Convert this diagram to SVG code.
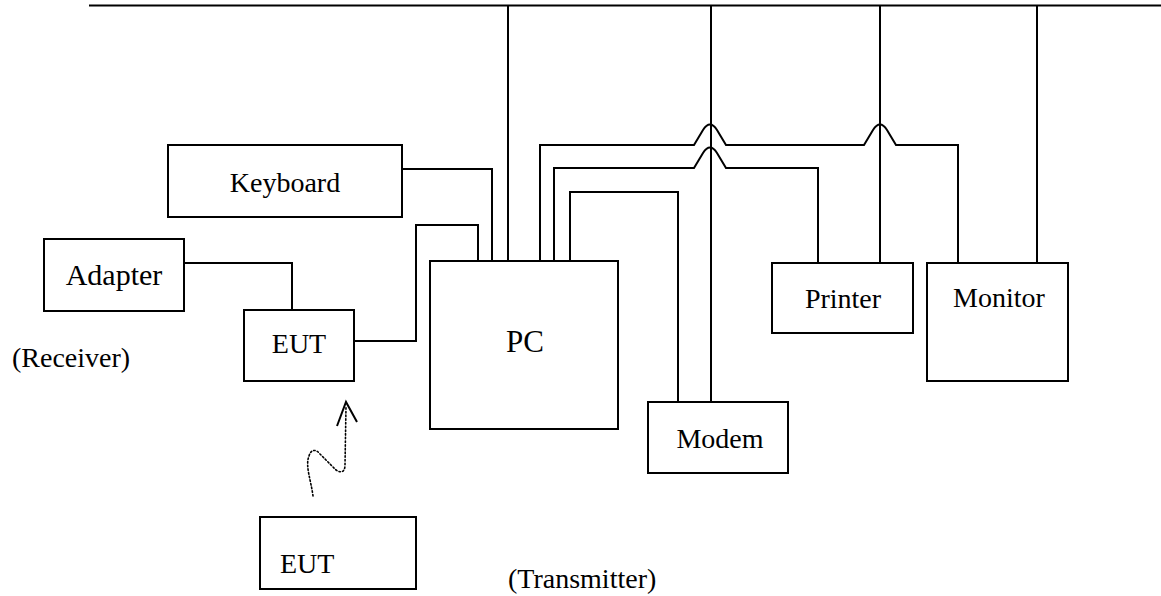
<svg xmlns="http://www.w3.org/2000/svg" width="1161" height="596" viewBox="0 0 1161 596">
<style>
.box{fill:#fff;stroke:#000;stroke-width:2}
.w{fill:none;stroke:#000;stroke-width:2}
.t{font-family:"Liberation Serif","Times New Roman",serif;font-size:28px;fill:#000}
.dot{fill:none;stroke:#000;stroke-width:1.6;stroke-dasharray:1.5 2.2;stroke-linecap:round}
</style>
<rect width="1161" height="596" fill="#fff"/>
<g id="connectors">
<path class="w" d="M89,5.5 H1161"/>
<path class="w" d="M182,263 H292 V310"/>
<path class="w" d="M354,341 H416 V225 H478 V272"/>
<path class="w" d="M400,169 H492 V263"/>
<path class="w" d="M508,5 V262"/>
<path class="w" d="M540,264 V145 H694 L703,130 Q710,119 717,130 L726,145 H864 L873,130 Q880,119 887,130 L896,145 H958 V263"/>
<path class="w" d="M554,263 V168 H694 L703,153 Q710,142 717,153 L726,168 H818 V263"/>
<path class="w" d="M570,262 V192 H678 V402"/>
<path class="w" d="M711,5 V402"/>
<path class="w" d="M880,5 V263"/>
<path class="w" d="M1037,5 V263"/>
<path class="dot" d="M313,496 C311,480 305,466 309,456 C311,449 316,449 320,454 L336,470 C342,474 345,471 345,465 L346,407"/>
<path class="w" d="M337,426 L346,402 L357,422"/>
</g>
<g id="keyboard"><rect class="box" x="168" y="145" width="234" height="72"/><text class="t" x="285" y="192" text-anchor="middle">Keyboard</text></g>
<g id="adapter"><rect class="box" x="44" y="239" width="140" height="72"/><text class="t" x="114" y="285" text-anchor="middle" style="font-size:30px">Adapter</text></g>
<g id="eut-rx"><rect class="box" x="244" y="310" width="110" height="71"/><text class="t" x="299" y="353" text-anchor="middle">EUT</text></g>
<g id="receiver-label"><text class="t" x="12" y="367">(Receiver)</text></g>
<g id="pc"><rect class="box" x="430" y="261" width="188" height="168"/><text class="t" x="525" y="352" text-anchor="middle" style="font-size:31px">PC</text></g>
<g id="modem"><rect class="box" x="648" y="402" width="140" height="71"/><text class="t" x="720" y="448" text-anchor="middle">Modem</text></g>
<g id="printer"><rect class="box" x="772" y="263" width="141" height="70"/><text class="t" x="843" y="308" text-anchor="middle">Printer</text></g>
<g id="monitor"><rect class="box" x="927" y="263" width="141" height="118"/><text class="t" x="999" y="307" text-anchor="middle">Monitor</text></g>
<g id="eut-tx"><rect class="box" x="260" y="517" width="156" height="72"/><text class="t" x="280" y="573">EUT</text></g>
<g id="transmitter-label"><text class="t" x="508" y="588">(Transmitter)</text></g>
</svg>
